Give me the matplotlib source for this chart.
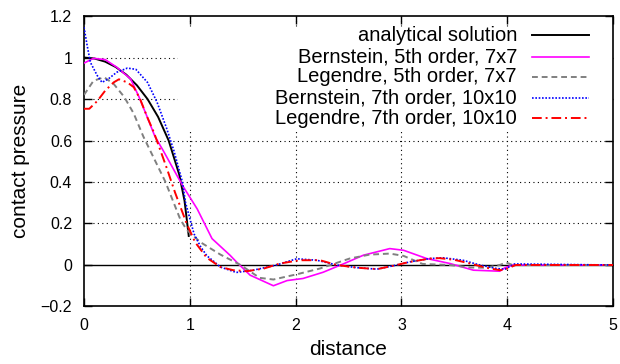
import matplotlib
matplotlib.use('agg')
import matplotlib.pyplot as plt
from matplotlib.patches import Rectangle

plt.rcParams['font.family'] = ['Liberation Sans', 'DejaVu Sans']

# analytical contact pressure
x_ana = [0, 0.1, 0.2, 0.3, 0.4, 0.5, 0.6, 0.7, 0.8, 0.9, 0.95, 0.99]
y_ana = [1.0, 0.995, 0.98, 0.954, 0.917, 0.866, 0.80, 0.714, 0.60, 0.436, 0.31, 0.14]

# Bernstein, 5th order, 7x7
x_b5 = [0, 0.09, 0.2, 0.31, 0.44, 0.52, 0.6, 0.67, 0.75, 0.88, 0.94, 1.07, 1.21,
        1.38, 1.45, 1.57, 1.79, 1.92, 2.07, 2.26, 2.45, 2.64, 2.89, 3.02, 3.24,
        3.46, 3.68, 3.93, 3.98, 4.05, 5.0]
y_b5 = [0.973, 0.996, 0.99, 0.953, 0.897, 0.81, 0.71, 0.62, 0.55, 0.43, 0.376,
        0.27, 0.127, 0.047, 0.01, -0.049, -0.1, -0.075, -0.065, -0.035, 0.005,
        0.047, 0.079, 0.071, 0.031, 0.007, -0.025, -0.03, -0.013, 0.0, 0.0]

# Legendre, 5th order, 7x7
x_l5 = [0, 0.09, 0.19, 0.28, 0.38, 0.47, 0.56, 0.77, 0.91, 0.97, 1.1, 1.29, 1.48,
        1.66, 1.79, 2.01, 2.23, 2.51, 2.70, 2.89, 3.02, 3.2, 3.46, 3.65, 3.8,
        3.93, 3.99, 4.05, 5.0]
y_l5 = [0.82, 0.888, 0.905, 0.873, 0.81, 0.73, 0.62, 0.40, 0.22, 0.17, 0.11, 0.05,
        0.0, -0.062, -0.07, -0.045, -0.017, 0.031, 0.05, 0.055, 0.044, 0.005,
        0.0, -0.012, -0.013, 0.0, 0.012, 0.0, 0.0]

# Bernstein, 7th order, 10x10
x_b7 = [0, 0.03, 0.06, 0.125, 0.17, 0.23, 0.31, 0.41, 0.49, 0.6, 0.69, 0.78, 0.85,
        0.93, 0.96, 1.04, 1.1, 1.16, 1.22, 1.29, 1.44, 1.6, 1.82, 2.01, 2.2, 2.39,
        2.58, 2.77, 2.92, 3.08, 3.27, 3.39, 3.58, 3.74, 3.9, 3.98, 4.07, 5.0]
y_b7 = [1.146, 1.057, 0.977, 0.913, 0.88, 0.897, 0.929, 0.949, 0.943, 0.88, 0.785,
        0.66, 0.55, 0.40, 0.30, 0.15, 0.09, 0.045, 0.02, -0.01, -0.036, -0.025,
        0.0, 0.03, 0.023, 0.0, -0.013, -0.02, -0.004, 0.015, 0.031, 0.035, 0.023,
        0.0, -0.017, -0.02, 0.005, 0.0]

# Legendre, 7th order, 10x10
x_l7 = [0, 0.05, 0.125, 0.2, 0.28, 0.33, 0.41, 0.47, 0.53, 0.6, 0.66, 0.78, 0.86,
        0.97, 1.05, 1.16, 1.29, 1.41, 1.54, 1.7, 1.85, 2.04, 2.23, 2.39, 2.58,
        2.77, 2.92, 3.08, 3.27, 3.36, 3.5, 3.65, 3.8, 3.93, 3.98, 4.08, 5.0]
y_l7 = [0.753, 0.753, 0.79, 0.84, 0.88, 0.895, 0.88, 0.857, 0.80, 0.71, 0.64, 0.47,
        0.35, 0.20, 0.11, 0.035, -0.01, -0.025, -0.03, -0.017, 0.007, 0.023,
        0.023, 0.0, -0.013, -0.02, -0.004, 0.015, 0.031, 0.033, 0.025, 0.007,
        -0.013, -0.025, -0.022, 0.0, 0.0]

labels = ['analytical solution', 'Bernstein, 5th order, 7x7',
          'Legendre, 5th order, 7x7', 'Bernstein, 7th order, 10x10',
          'Legendre, 7th order, 10x10']
x_ticks = [0, 1, 2, 3, 4, 5]
y_ticks = [-0.2, 0, 0.2, 0.4, 0.6, 0.8, 1.0, 1.2]
y_ticklabels = ['\u22120.2', '0', '0.2', '0.4', '0.6', '0.8', '1', '1.2']

fig = plt.figure(figsize=(6.2, 3.64), dpi=100)
ax = fig.add_axes([0.1355, 0.158, 0.8532, 0.798])

styles = [
    dict(color='black', lw=1.4, ls='-'),
    dict(color='#ff00ff', lw=1.2, ls='-'),
    dict(color='#808080', lw=1.4, ls=(0, (3, 2))),
    dict(color='#0000ff', lw=1.2, ls=(0, (1, 1))),
    dict(color='#ff0000', lw=1.4, ls=(0, (5, 2, 1, 2))),
]
series = [(x_ana, y_ana), (x_b5, y_b5), (x_l5, y_l5), (x_b7, y_b7), (x_l7, y_l7)]

# grid and zero line
for xv in x_ticks[1:-1]:
    ax.axvline(xv, color='black', lw=0.8, ls=(0, (1, 3)), zorder=1)
for yv in y_ticks[2:-1]:
    ax.axhline(yv, color='black', lw=0.8, ls=(0, (1, 3)), zorder=1)
ax.axhline(0, color='black', lw=1.0, zorder=1.5)

for (xs, ys), st in zip(series, styles):
    ax.plot(xs, ys, zorder=3, **st)

# key box masks the grid
ax.add_patch(Rectangle((0.178, 0.61), 0.822, 0.353, transform=ax.transAxes,
                       facecolor='white', edgecolor='none', zorder=2))
key_y = [0.9346, 0.860, 0.791, 0.719, 0.648]
for ky, lab, st in zip(key_y, labels, styles):
    ax.text(0.8185, ky, lab, transform=ax.transAxes, ha='right', va='center',
            fontsize=14.5, zorder=4)
    ax.plot([0.846, 0.955], [ky, ky], transform=ax.transAxes, zorder=4, **st)

ax.set_xlim(0, 5)
ax.set_ylim(-0.2, 1.2)
ax.set_xticks(x_ticks)
ax.set_yticks(y_ticks)
ax.set_yticklabels(y_ticklabels)
ax.tick_params(direction='in', length=6, width=1, top=True, right=True,
               labelsize=11.5, pad=8.5)
for sp in ax.spines.values():
    sp.set_linewidth(1.2)

ax.set_xlabel('distance', fontsize=15, labelpad=5)
ax.set_ylabel('contact pressure', fontsize=15, labelpad=8)

fig.savefig('out.png', dpi=100)
